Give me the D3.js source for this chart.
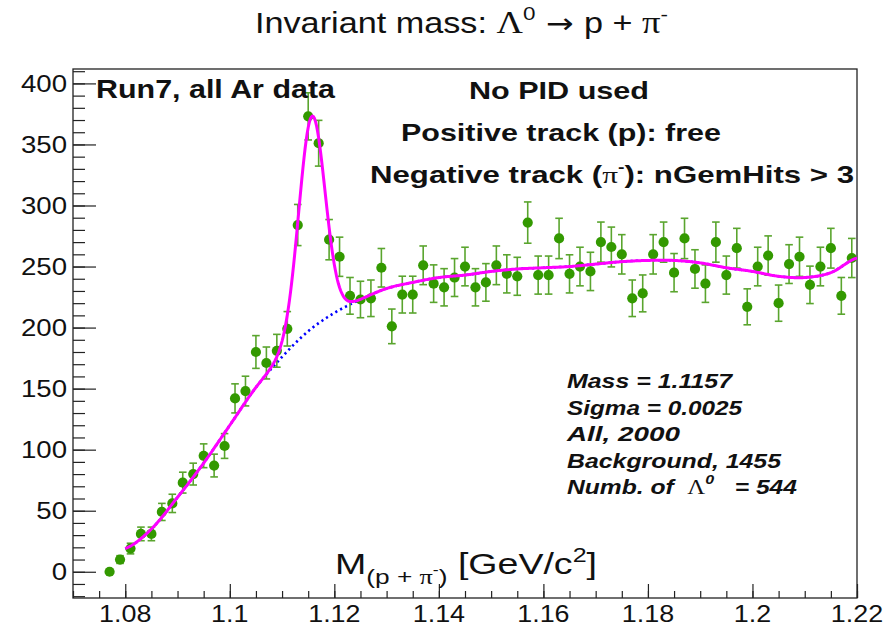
<!DOCTYPE html>
<html><head><meta charset="utf-8">
<script src="https://cdn.jsdelivr.net/npm/d3@7"></script>
<style>body{margin:0;background:#fff}svg{display:block}text{white-space:pre}</style>
</head><body>
<script>
// ---------------- data ----------------
const binFirstCenter = 1.077;
const binWidth = 0.002;
const counts = [0,10,19,31,31,49,56,73,80,95,87,103,142,148,180,171,181,199,284,373,351,272,258,226,223,224,249,201,227,227,251,236,233,241,250,233,237,251,244,242,286,243,243,273,244,250,246,270,266,260,224,228,260,270,245,273,248,236,270,243,265,217,250,259,220,252,258,235,250,265,226,257];
const binCenters = counts.map((_, i) => binFirstCenter + i * binWidth);

// background fit curve
const bgMass   = [1.080,1.085,1.090,1.095,1.100,1.105,1.110,1.115,1.120,1.125,1.130,1.135,1.140,1.145,1.150,1.155,1.160,1.165,1.170,1.175,1.180,1.185,1.190,1.195,1.200,1.205,1.210,1.215,1.220];
const bgValues = [19,35,61,89,120,151,176,197,212,223,232,237,241,243,246,248,249,250,252,254,255,255,253,249,246,242,241,245,257];

// signal fit parameters (from the stats box)
const fitMass = 1.1157, fitSigma = 0.0025, signalCount = 544;

const xTicks = [1.08,1.10,1.12,1.14,1.16,1.18,1.20,1.22];
const xTickLabels = ["1.08","1.1","1.12","1.14","1.16","1.18","1.2","1.22"];
const yTicks = [0,50,100,150,200,250,300,350,400];

const statsLines = ["Mass = 1.1157","Sigma = 0.0025","All, 2000","Background, 1455"];

// ---------------- layout ----------------
const W = 889, H = 633;
const frame = {l: 73, r: 857, t: 69, b: 598};
const x = d3.scaleLinear().domain([1.07, 1.22]).range([frame.l, frame.r]);
const y = d3.scaleLinear().domain([-21.5, 411.8]).range([frame.b, frame.t]);

const svg = d3.select("body").append("svg").attr("width", W).attr("height", H)
  .style("font-family", "'Liberation Sans', Arial, sans-serif");
svg.append("rect").attr("width", W).attr("height", H).attr("fill", "#fff");

// frame
svg.append("rect").attr("x", frame.l).attr("y", frame.t)
  .attr("width", frame.r - frame.l).attr("height", frame.b - frame.t)
  .attr("fill", "none").attr("stroke", "#222").attr("stroke-width", 1.3);

// axes (ticks drawn with d3 axes, labels placed with a horizontal stretch)
const styleAxis = g => { g.select(".domain").remove(); g.selectAll("line").attr("stroke", "#222").attr("stroke-width", 1.2); g.selectAll("text").remove(); };
svg.append("g").attr("transform", `translate(0,${frame.b})`)
  .call(d3.axisBottom(x).tickValues(d3.range(1.07, 1.2201, 0.005)).tickSize(-7).tickFormat("")).call(styleAxis);
svg.append("g").attr("transform", `translate(0,${frame.b})`)
  .call(d3.axisBottom(x).tickValues(xTicks).tickSize(-14).tickFormat("")).call(styleAxis);
svg.append("g").attr("transform", `translate(${frame.l},0)`)
  .call(d3.axisLeft(y).tickValues(d3.range(-20, 411, 10)).tickSize(-12).tickFormat("")).call(styleAxis);
svg.append("g").attr("transform", `translate(${frame.l},0)`)
  .call(d3.axisLeft(y).tickValues(yTicks).tickSize(-23).tickFormat("")).call(styleAxis);

const xl = svg.append("g");
xTicks.forEach((t, i) => {
  xl.append("text").attr("transform", `translate(${x(t)},${622}) scale(1.12,1)`)
    .attr("text-anchor", "middle").attr("font-size", 24).attr("fill", "#111").text(xTickLabels[i]);
});
const yl = svg.append("g");
yTicks.forEach(t => {
  yl.append("text").attr("transform", `translate(67,${y(t) + 8.5}) scale(1.15,1)`)
    .attr("text-anchor", "end").attr("font-size", 24).attr("fill", "#111").text(t);
});

// ---------------- fit curves ----------------
function bgAt(m) {
  const h = bgMass[1] - bgMass[0];
  const t = (m - bgMass[0]) / h;
  let i = Math.floor(t);
  const n = bgValues.length;
  if (i >= n - 1) i = n - 2;
  if (i < 0) i = 0;
  const u = t - i;
  const v = k => bgValues[Math.max(0, Math.min(n - 1, k))];
  const p0 = v(i - 1), p1 = v(i), p2 = v(i + 1), p3 = v(i + 2);
  return 0.5 * (2 * p1 + (-p0 + p2) * u + (2 * p0 - 5 * p1 + 4 * p2 - p3) * u * u + (-p0 + 3 * p1 - 3 * p2 + p3) * u * u * u);
}
const amp = signalCount * binWidth / (fitSigma * Math.sqrt(2 * Math.PI));
const grid = d3.range(bgMass[0], bgMass[bgMass.length - 1] + 1e-9, 0.0002);
const line = d3.line().x(d => x(d[0])).y(d => y(d[1]));
svg.append("clipPath").attr("id", "clip").append("rect")
  .attr("x", frame.l).attr("y", frame.t).attr("width", frame.r - frame.l).attr("height", frame.b - frame.t);

svg.append("path").datum(grid.map(m => [m, bgAt(m)]))
  .attr("d", line).attr("fill", "none").attr("stroke", "#0000ff")
  .attr("stroke-width", 2.6).attr("stroke-dasharray", "2.2,3.3").attr("clip-path", "url(#clip)");

// ---------------- data points ----------------
const pts = svg.append("g");
const errColor = "#5aa52e", mkColor = "#339900";
counts.forEach((c, i) => {
  const cx = x(binCenters[i]);
  const e = Math.sqrt(c);
  if (e > 0) {
    const y1 = y(c + e), y2 = y(c - e);
    pts.append("line").attr("x1", cx).attr("x2", cx).attr("y1", y1).attr("y2", y2).attr("stroke", errColor).attr("stroke-width", 1.6);
    [y1, y2].forEach(yy => pts.append("line").attr("x1", cx - 3.8).attr("x2", cx + 3.8).attr("y1", yy).attr("y2", yy).attr("stroke", errColor).attr("stroke-width", 1.6));
  }
});
counts.forEach((c, i) => {
  pts.append("circle").attr("cx", x(binCenters[i])).attr("cy", y(c)).attr("r", 5.1).attr("fill", mkColor);
});

svg.append("path").datum(grid.map(m => [m, bgAt(m) + amp * Math.exp(-0.5 * Math.pow((m - fitMass) / fitSigma, 2))]))
  .attr("d", line).attr("fill", "none").attr("stroke", "#ff00ff")
  .attr("stroke-width", 3).attr("clip-path", "url(#clip)");

// ---------------- texts ----------------
const serif = "'Liberation Serif', 'Times New Roman', serif";
// title
const title = svg.append("text").attr("x", 255).attr("y", 33).attr("font-size", 29).attr("fill", "#111")
  .attr("textLength", 413).attr("lengthAdjust", "spacingAndGlyphs");
title.append("tspan").text("Invariant mass: ");
title.append("tspan").attr("font-family", serif).attr("font-size", 31).text("\u039B");
title.append("tspan").attr("font-size", 19).attr("dy", -13).text("0");
title.append("tspan").attr("dy", 13).attr("font-family", "'DejaVu Sans', sans-serif").attr("font-size", 28).text(" \u2192 ");
title.append("tspan").text("p + ");
title.append("tspan").attr("font-family", serif).attr("font-size", 31).text("\u03C0");
title.append("tspan").attr("font-size", 19).attr("dy", -12).text("-");

// left label
svg.append("text").attr("x", 96).attr("y", 98).attr("font-size", 25).attr("font-weight", "bold").attr("fill", "#111")
  .attr("textLength", 239).attr("lengthAdjust", "spacingAndGlyphs").text("Run7, all Ar data");

svg.append("text").attr("x", 469).attr("y", 99).attr("font-size", 24).attr("font-weight", "bold").attr("fill", "#111")
  .attr("textLength", 180).attr("lengthAdjust", "spacingAndGlyphs").text("No PID used");
svg.append("text").attr("x", 401).attr("y", 141).attr("font-size", 24).attr("font-weight", "bold").attr("fill", "#111")
  .attr("textLength", 320).attr("lengthAdjust", "spacingAndGlyphs").text("Positive track (p): free");
const neg = svg.append("text").attr("x", 370).attr("y", 183).attr("font-size", 24).attr("font-weight", "bold").attr("fill", "#111")
  .attr("textLength", 484).attr("lengthAdjust", "spacingAndGlyphs");
neg.append("tspan").text("Negative track (");
neg.append("tspan").attr("font-family", serif).attr("font-weight", "normal").text("\u03C0");
neg.append("tspan").attr("font-size", 15).attr("dy", -11).text("-");
neg.append("tspan").attr("dy", 11).text("): nGemHits > 3");

// stats
const statsWidths = [165, 175, 113, 214];
statsLines.forEach((s, i) => {
  svg.append("text").attr("x", 567).attr("y", 388 + i * 26.5).attr("font-size", 20)
    .attr("font-weight", "bold").attr("font-style", "italic").attr("fill", "#111")
    .attr("textLength", statsWidths[i]).attr("lengthAdjust", "spacingAndGlyphs").text(s);
});
const nb = svg.append("text").attr("x", 567).attr("y", 388 + 4 * 26.5).attr("font-size", 20)
  .attr("font-weight", "bold").attr("font-style", "italic").attr("fill", "#111")
  .attr("textLength", 230).attr("lengthAdjust", "spacingAndGlyphs");
nb.append("tspan").text("Numb. of  ");
nb.append("tspan").attr("font-family", serif).attr("font-weight", "normal").attr("font-style", "normal").text("\u039B");
nb.append("tspan").attr("font-size", 13).attr("dy", -10).text("0");
nb.append("tspan").attr("dy", 10).text("   = 544");

// x axis title
const xt = svg.append("text").attr("x", 335).attr("y", 574).attr("font-size", 30).attr("fill", "#111")
  .attr("textLength", 262).attr("lengthAdjust", "spacingAndGlyphs");
xt.append("tspan").text("M");
xt.append("tspan").attr("font-size", 21).attr("dy", 10).text("(p + ");
xt.append("tspan").attr("font-size", 21).attr("font-family", serif).text("\u03C0");
xt.append("tspan").attr("font-size", 14).attr("dy", -9).text("-");
xt.append("tspan").attr("font-size", 21).attr("dy", 9).text(")");
xt.append("tspan").attr("dy", -10).text(" [GeV/c");
xt.append("tspan").attr("font-size", 20).attr("dy", -12).text("2");
xt.append("tspan").attr("dy", 12).text("]");
</script>
</body></html>
